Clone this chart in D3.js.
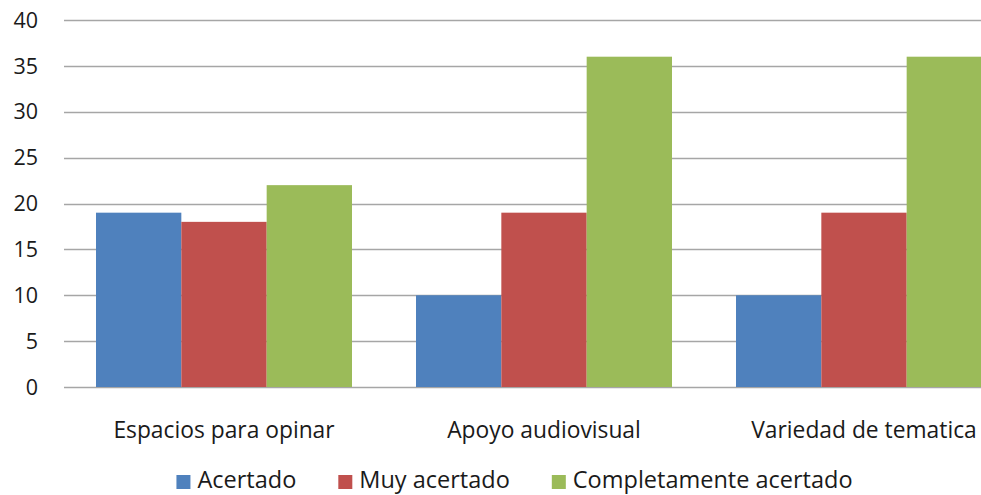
<!DOCTYPE html>
<html>
<head>
<meta charset="utf-8">
<script src="https://cdn.jsdelivr.net/npm/d3@7"></script>
<style>
  html, body { margin: 0; padding: 0; background: #fff; overflow: hidden; }
  svg { display: block; font-family: "Open Sans", sans-serif; }
</style>
</head>
<body>
<div class="canvas"></div>
<script>
const w = 981;
const h = 495;
const margin = {top: 20, bottom: 108, left: 64, right: -43};

const categories = ["Espacios para opinar", "Apoyo audiovisual", "Variedad de tematica"];
const seriesNames = ["Acertado", "Muy acertado", "Completamente acertado"];
const acertado = [19, 10, 10];
const muyAcertado = [18, 19, 19];
const completamente = [22, 36, 36];
const yTicks = [0, 5, 10, 15, 20, 25, 30, 35, 40];

const seriesValues = [acertado, muyAcertado, completamente];
const colors = d3.scaleOrdinal().domain(seriesNames).range(["#4F81BD", "#C0504D", "#9BBB59"]);

const svg = d3.select(".canvas")
  .append("svg")
  .attr("width", w)
  .attr("height", h);

// Excel-like spacing: group bands touch, bars inset 32px on each side
const x = d3.scaleBand()
  .domain(categories)
  .range([margin.left, w - margin.right]);

const inner = d3.scaleBand()
  .domain(seriesNames)
  .range([32, x.bandwidth() - 32]);

const y = d3.scaleLinear()
  .domain([0, 40])
  .range([h - margin.bottom, margin.top]);

// gridlines
svg.append("g")
  .selectAll("line")
  .data(yTicks)
  .enter().append("line")
  .attr("x1", margin.left)
  .attr("x2", w - margin.right)
  .attr("y1", d => Math.round(y(d)) + 0.5)
  .attr("y2", d => Math.round(y(d)) + 0.5)
  .attr("stroke", "#a6a6a6")
  .attr("stroke-width", 1.5);

// y labels
svg.append("g")
  .selectAll("text")
  .data(yTicks)
  .enter().append("text")
  .attr("x", 38)
  .attr("y", d => y(d))
  .attr("dy", "0.36em")
  .attr("text-anchor", "end")
  .attr("fill", "#1a1a1a")
  .style("font-size", "21.5px")
  .text(d => d);

// bars
const groups = svg.append("g")
  .selectAll("g")
  .data(categories)
  .enter().append("g")
  .attr("transform", d => "translate(" + x(d) + ",0)");

groups.selectAll("rect")
  .data((d, i) => seriesNames.map((s, j) => ({series: s, value: seriesValues[j][i]})))
  .enter().append("rect")
  .attr("x", d => inner(d.series))
  .attr("y", d => y(d.value))
  .attr("width", inner.bandwidth())
  .attr("height", d => y(0) - y(d.value))
  .attr("fill", d => colors(d.series));

// category labels
svg.append("g")
  .selectAll("text")
  .data(categories)
  .enter().append("text")
  .attr("x", d => x(d) + x.bandwidth() / 2)
  .attr("y", 438)
  .attr("text-anchor", "middle")
  .attr("fill", "#1a1a1a")
  .style("font-size", "22.8px")
  .text(d => d);

// legend
const legend = svg.append("g").attr("class", "legend");
const items = legend.selectAll("g")
  .data(seriesNames)
  .enter().append("g");

items.append("rect")
  .attr("width", 14)
  .attr("height", 14)
  .attr("y", 475)
  .attr("fill", d => colors(d));

items.append("text")
  .attr("x", 21)
  .attr("y", 488)
  .attr("fill", "#1a1a1a")
  .style("font-size", "23.5px")
  .text(d => d);

let widths = [];
items.each(function() { widths.push(d3.select(this).select("text").node().getComputedTextLength() + 21); });
const gap = 42;
const total = d3.sum(widths) + gap * (widths.length - 1);
let pos = 514.5 - total / 2;
items.attr("transform", function(d, i) {
  const t = "translate(" + pos + ",0)";
  pos += widths[i] + gap;
  return t;
});
</script>
</body>
</html>
